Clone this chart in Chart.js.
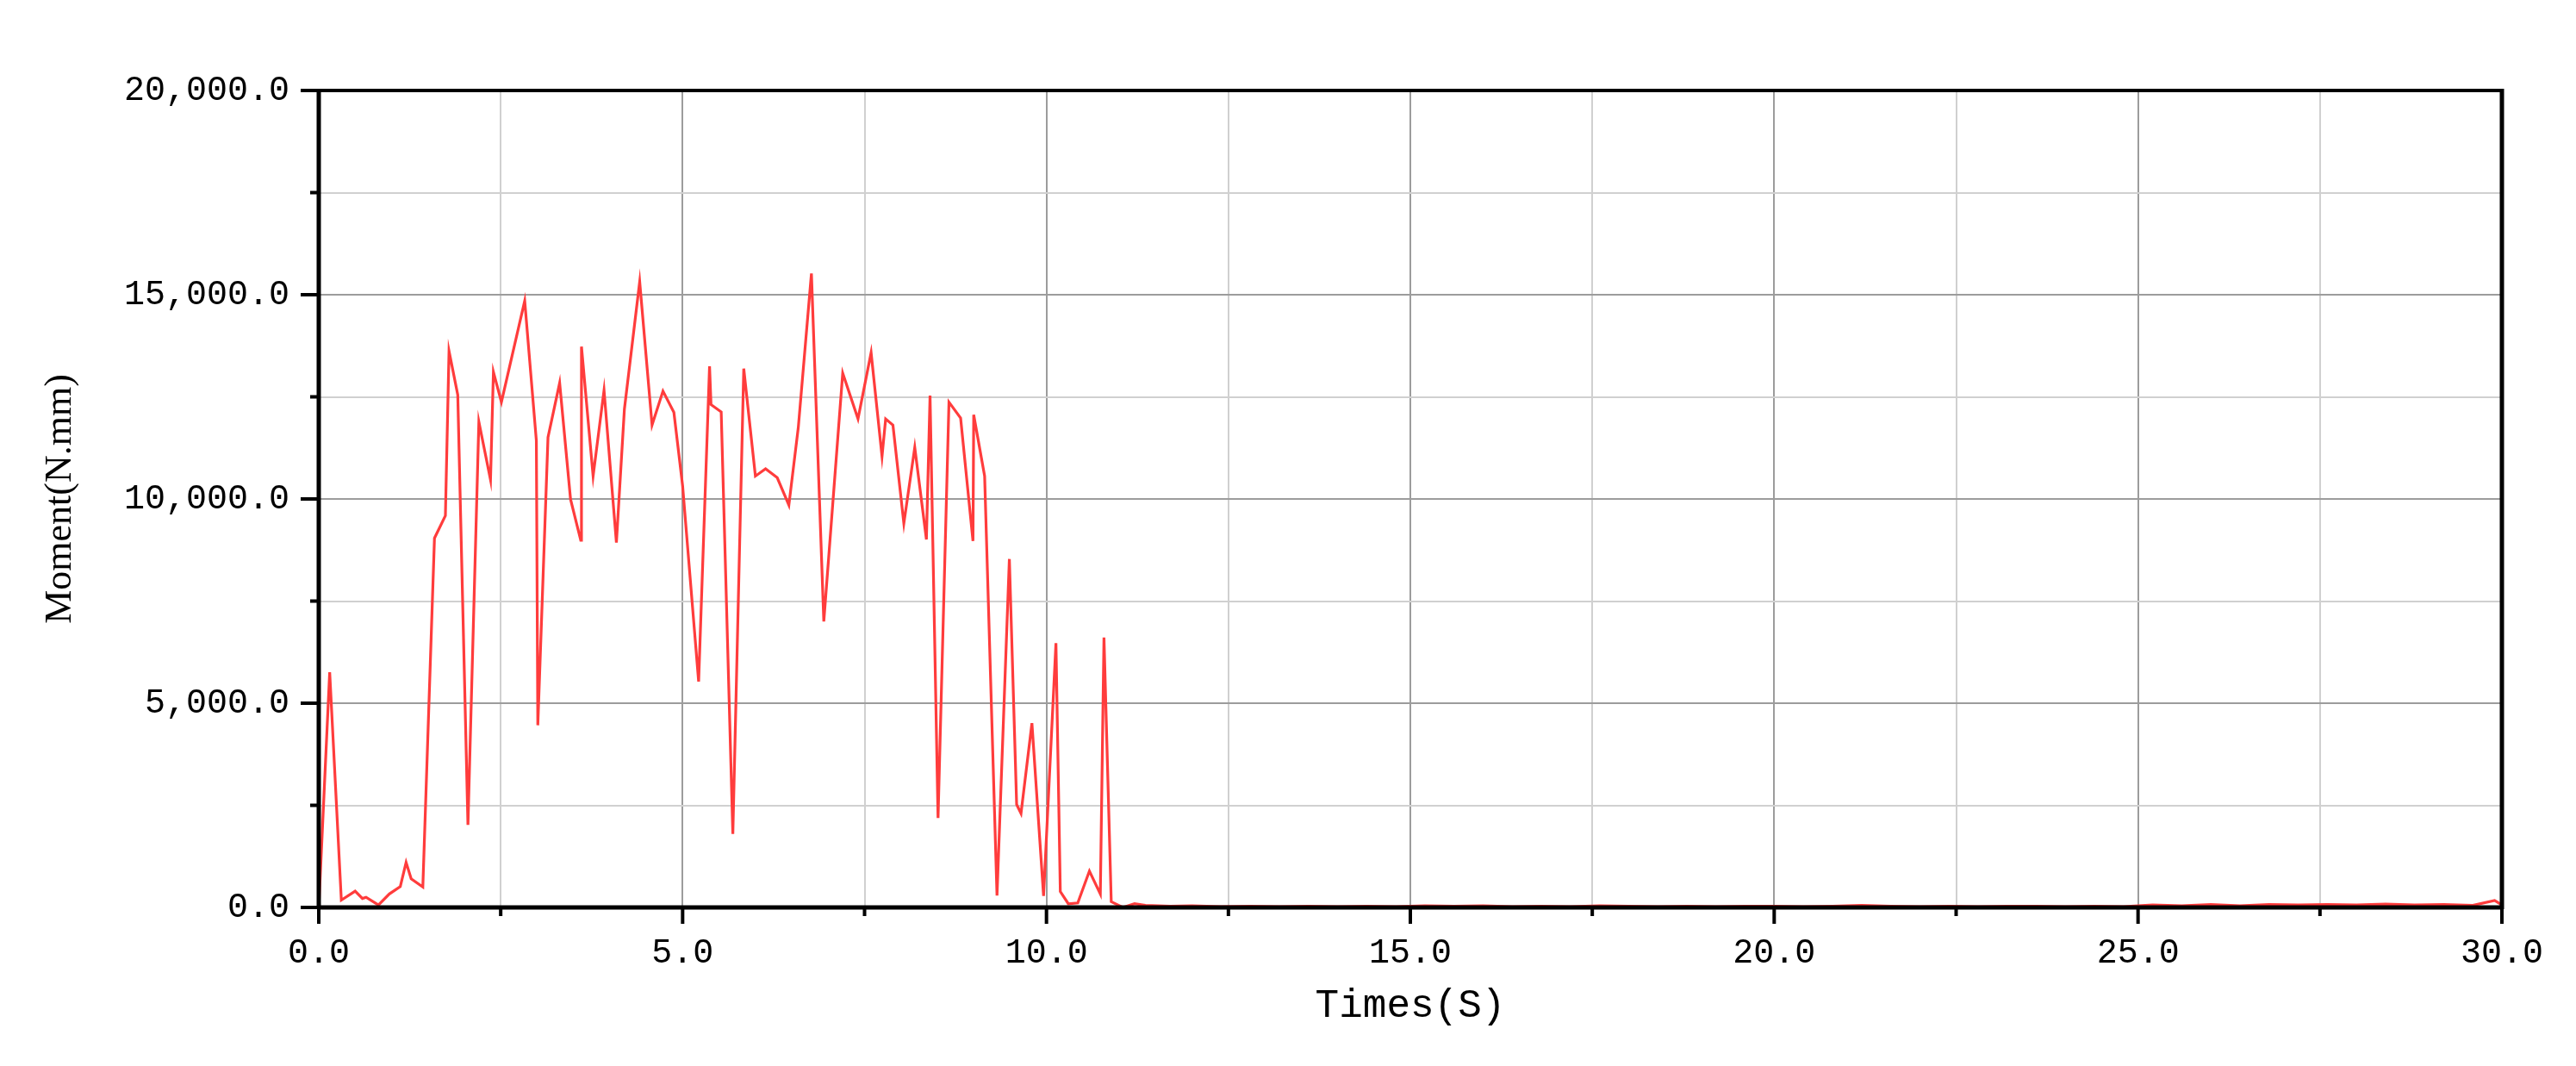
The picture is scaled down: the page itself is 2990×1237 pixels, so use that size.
<!DOCTYPE html>
<html>
<head>
<meta charset="utf-8">
<script src="https://cdn.jsdelivr.net/npm/chart.js@4/dist/chart.umd.min.js"></script>
<style>
html,body{margin:0;padding:0;background:#fff;}
#wrap{width:2990px;height:1237px;position:relative;}
</style>
</head>
<body>
<div id="wrap"><canvas id="c" width="2990" height="1237"></canvas></div>
<script>
// Time (s)
const times = [
  0.00, 0.15, 0.31, 0.50, 0.60, 0.65, 0.82, 0.97, 1.12, 1.20, 1.27, 1.43,
  1.59, 1.74, 1.79, 1.91, 2.05, 2.20, 2.36, 2.40, 2.51, 2.83, 2.99, 3.01,
  3.15, 3.31, 3.46, 3.60, 3.61, 3.77, 3.92, 4.09, 4.20, 4.41, 4.58, 4.73,
  4.88, 5.00, 5.22, 5.37, 5.39, 5.53, 5.69, 5.84, 6.00, 6.14, 6.30, 6.46,
  6.59, 6.77, 6.94, 7.20, 7.41, 7.59, 7.74, 7.79, 7.89, 8.04, 8.19, 8.35,
  8.40, 8.51, 8.66, 8.82, 8.99, 9.00, 9.15, 9.32, 9.49, 9.59, 9.65, 9.80,
  9.96, 10.13, 10.19, 10.30, 10.43, 10.59, 10.74, 10.79, 10.89, 11.05, 11.21, 11.36,
  11.7, 12.0, 12.4, 12.8, 13.2, 13.6, 14.0, 14.4, 14.8, 15.2, 15.6, 16.0,
  16.4, 16.8, 17.2, 17.6, 18.0, 18.4, 18.8, 19.2, 19.6, 20.0, 20.4, 20.8,
  21.2, 21.6, 22.0, 22.4, 22.8, 23.2, 23.6, 24.0, 24.4, 24.8, 25.2, 25.6,
  26.0, 26.4, 26.8, 27.2, 27.6, 28.0, 28.4, 28.8, 29.2, 29.6, 29.9, 30.0
];
// Moment (N.mm)
const moments = [
  0, 5760, 180, 400, 220, 250, 60, 330, 510, 1100, 700, 500,
  9040, 9590, 13620, 12550, 2020, 11890, 10470, 13110, 12370, 14850, 11430, 4460,
  11510, 12840, 9990, 8990, 13730, 10560, 12660, 8930, 12200, 15320, 11810, 12640,
  12120, 10320, 5530, 13250, 12310, 12130, 1800, 13190, 10560, 10740, 10520, 9850,
  11760, 15520, 7000, 13080, 11960, 13580, 11040, 11960, 11810, 9400, 11260, 9010,
  12530, 2190, 12370, 11980, 8970, 12060, 10560, 290, 8530, 2520, 2300, 4510,
  280, 6470, 390, 90, 110, 890, 330, 6610, 140, 0, 90, 50,
  30, 40, 20, 30, 20, 30, 20, 30, 20, 40, 30, 40,
  20, 30, 20, 40, 30, 20, 30, 20, 30, 30, 20, 30,
  50, 30, 20, 30, 20, 30, 30, 20, 30, 20, 60, 40,
  70, 40, 70, 60, 70, 60, 80, 60, 70, 50, 170, 60
];
const xTickStep = 2.5;
const yTickStep = 2500;

const points = times.map((t, i) => ({x: t, y: moments[i]}));

const MONO = '"Liberation Mono", "DejaVu Sans Mono", monospace';

const boxAndTicks = {
  id: 'boxAndTicks',
  afterDraw(chart) {
    const ctx = chart.ctx;
    const {left, right, top, bottom} = chart.chartArea;
    const xs = chart.scales.x, ys = chart.scales.y;
    ctx.save();
    ctx.strokeStyle = '#000';
    ctx.lineWidth = 4;
    ctx.beginPath();
    ys.ticks.forEach(t => {
      const p = ys.getPixelForValue(t.value);
      const len = (t.value % 5000 === 0) ? 21 : 10;
      ctx.moveTo(left - len, p);
      ctx.lineTo(left, p);
    });
    xs.ticks.forEach(t => {
      const p = xs.getPixelForValue(t.value);
      const len = (Math.abs(t.value % 5) < 1e-6) ? 19 : 10;
      ctx.moveTo(p, bottom);
      ctx.lineTo(p, bottom + len);
    });
    ctx.stroke();
    ctx.lineWidth = 4;
    ctx.strokeRect(left, top, right - left, bottom - top);
    ctx.lineWidth = 5;
    ctx.beginPath();
    ctx.moveTo(left, top - 2);
    ctx.lineTo(left, bottom + 2);
    ctx.moveTo(left - 2, bottom);
    ctx.lineTo(right + 2, bottom);
    ctx.moveTo(right, top - 2);
    ctx.lineTo(right, bottom + 2);
    ctx.stroke();
    ctx.restore();
  }
};

new Chart(document.getElementById('c'), {
  type: 'scatter',
  data: {
    datasets: [{
      data: points,
      showLine: true,
      borderColor: 'rgb(255,60,60)',
      backgroundColor: 'rgb(255,60,60)',
      borderWidth: 3.2,
      pointRadius: 0,
      tension: 0
    }]
  },
  options: {
    responsive: false,
    animation: false,
    devicePixelRatio: 1,
    layout: {padding: {left: 40, top: 105, right: 86, bottom: 38}},
    plugins: {legend: {display: false}, tooltip: {enabled: false}},
    scales: {
      x: {
        type: 'linear', min: 0, max: 30,
        afterFit: s => { s.height = 146; },
        ticks: {
          stepSize: xTickStep, autoSkip: false, maxRotation: 0, padding: 29,
          color: '#000', font: {family: MONO, size: 40},
          callback: v => (Math.abs(v % 5) < 1e-6) ? v.toFixed(1) : ''
        },
        grid: {
          drawTicks: false, lineWidth: 2,
          color: c => (Math.abs(c.tick.value % 5) < 1e-6) ? '#9c9c9c' : '#d0d0d0'
        },
        border: {display: false},
        title: {display: true, text: 'Times(S)', color: '#000', font: {family: MONO, size: 46}, padding: {top: 4, bottom: 4}}
      },
      y: {
        type: 'linear', min: 0, max: 20000,
        afterFit: s => { s.width = 330; },
        ticks: {
          stepSize: yTickStep, autoSkip: false, padding: 34,
          color: '#000', font: {family: MONO, size: 40},
          callback: v => (v % 5000 === 0) ? v.toLocaleString('en-US') + '.0' : ''
        },
        grid: {
          drawTicks: false, lineWidth: 2,
          color: c => (c.tick.value % 5000 === 0) ? '#9c9c9c' : '#d0d0d0'
        },
        border: {display: false},
        title: {display: true, text: 'Moment(N.mm)', color: '#000', font: {family: '"Liberation Serif", serif', size: 44}, padding: {top: 4, bottom: 4}}
      }
    }
  },
  plugins: [boxAndTicks]
});
</script>
</body>
</html>
